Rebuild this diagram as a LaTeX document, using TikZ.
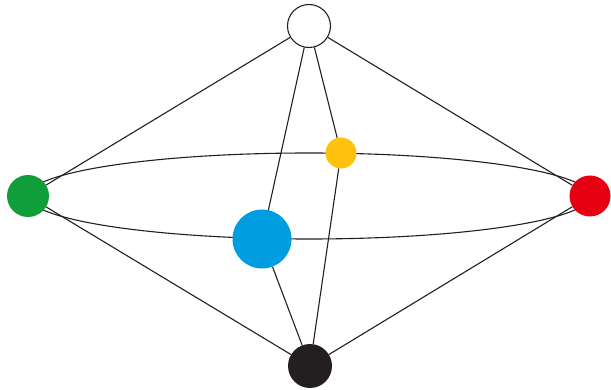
\documentclass[tikz,border=0pt]{standalone}
\usetikzlibrary{backgrounds}
\definecolor{cgreen}{RGB}{16,158,58}
\definecolor{cred}{RGB}{230,0,18}
\definecolor{cyellow}{RGB}{255,194,14}
\definecolor{cblue}{RGB}{0,157,224}
\definecolor{cblack}{RGB}{35,31,32}
\begin{document}
\begin{tikzpicture}[x=1pt,y=1pt,
  ball/.style={circle,inner sep=0pt,draw=none},
  edge/.style={line width=1.1pt,draw=cblack}]
\useasboundingbox (0,0) rectangle (611,-390);
\node[circle,inner sep=0pt,minimum size=43pt,fill=white,draw=cblack,line width=1.1pt] (t) at (309,-26) {};
\node[ball,minimum size=42pt,fill=cgreen] (g) at (28,-196) {};
\node[ball,minimum size=41pt,fill=cred] (r) at (590,-196) {};
\node[ball,minimum size=31pt,fill=cyellow] (y) at (341,-153) {};
\node[ball,minimum size=59pt,fill=cblue] (b) at (262,-239) {};
\node[ball,minimum size=44pt,fill=cblack] (k) at (310,-366) {};
\begin{pgfonlayer}{background}
\draw[edge] (g.center) arc[start angle=180,end angle=0,x radius=281,y radius=43];
\draw[edge] (g.center) arc[start angle=180,end angle=360,x radius=281,y radius=43];
\end{pgfonlayer}
\draw[edge] (t) -- (g);
\draw[edge] (t) -- (r);
\draw[edge] (t) -- (b);
\draw[edge] (t) -- (y);
\draw[edge] (k) -- (g);
\draw[edge] (k) -- (r);
\draw[edge] (k) -- (b);
\draw[edge] (k) -- (y);
\end{tikzpicture}
\end{document}
